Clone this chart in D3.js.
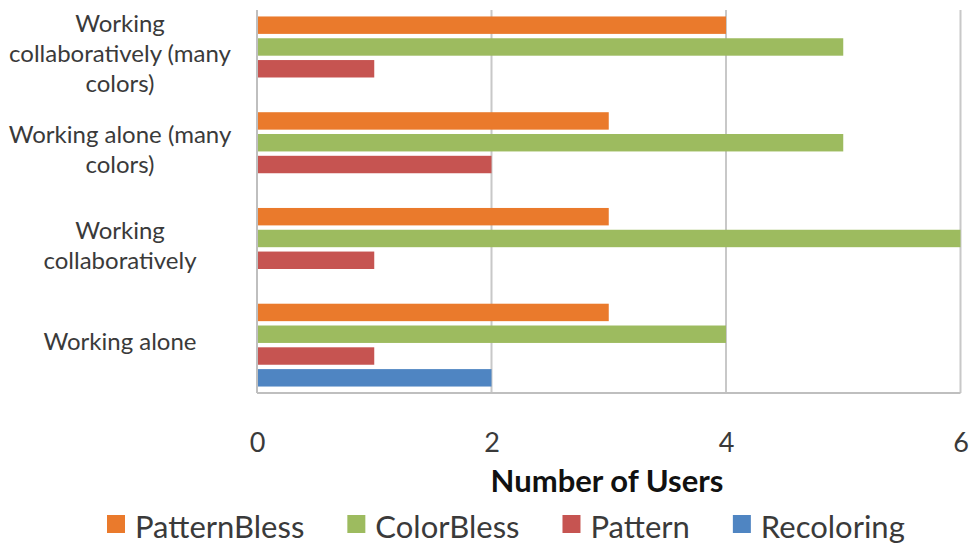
<!DOCTYPE html>
<html>
<head>
<meta charset="utf-8">
<script src="https://cdn.jsdelivr.net/npm/d3@7"></script>
<style>
  body { margin: 0; background: #fff; }
  text { font-family: Lato, "Open Sans", sans-serif; fill: #3a3a3a; }
</style>
</head>
<body>
<svg id="chart" width="977" height="545"></svg>
<script>
// data
const categories = [
  ['Working', 'collaboratively (many', 'colors)'],
  ['Working alone (many', 'colors)'],
  ['Working', 'collaboratively'],
  ['Working alone']
]
const seriesNames = ['PatternBless', 'ColorBless', 'Pattern', 'Recoloring']
const patternBless = [4, 3, 3, 3]
const colorBless = [5, 5, 6, 4]
const pattern = [1, 2, 1, 1]
const recoloring = [0, 0, 0, 2]
const xTicks = [0, 2, 4, 6]

const COLORS = ['#EA7A2C', '#9DBB5F', '#C65451', '#4F85C2']

const PLOT = { left: 257, right: 960.5, top: 10, bottom: 393 }

const values = [patternBless, colorBless, pattern, recoloring]
const catKeys = categories.map((_, i) => i)

const svg = d3.select('#chart')

const x = d3.scaleLinear().domain([0, 6]).range([PLOT.left, PLOT.right])
const y = d3.scaleBand().domain(catKeys).range([PLOT.top, PLOT.bottom]).paddingInner(0.135).paddingOuter(0.0675)
const ySub = d3.scaleBand().domain(seriesNames).range([0, y.bandwidth()]).paddingInner(0.2)

// grid
svg.append('g')
  .selectAll('line')
  .data(xTicks.slice(1))
  .join('line')
    .attr('x1', d => x(d)).attr('x2', d => x(d))
    .attr('y1', PLOT.top).attr('y2', PLOT.bottom)
    .attr('stroke', '#c8c8c8')
    .attr('stroke-width', 2)

// bars
const groups = svg.append('g')
  .selectAll('g')
  .data(catKeys)
  .join('g')
    .attr('transform', d => `translate(0, ${y(d)})`)

groups.selectAll('rect')
  .data(ci => seriesNames.map((s, si) => ({ s, si, v: values[si][ci] })))
  .join('rect')
    .attr('x', x(0))
    .attr('y', d => ySub(d.s))
    .attr('width', d => x(d.v) - x(0))
    .attr('height', ySub.bandwidth())
    .attr('fill', d => COLORS[d.si])

// axis lines
svg.append('line')
  .attr('x1', PLOT.left).attr('x2', PLOT.left)
  .attr('y1', PLOT.top).attr('y2', PLOT.bottom)
  .attr('stroke', '#bfbfbf').attr('stroke-width', 2)
svg.append('line')
  .attr('x1', PLOT.left).attr('x2', PLOT.right)
  .attr('y1', PLOT.bottom).attr('y2', PLOT.bottom)
  .attr('stroke', '#bfbfbf').attr('stroke-width', 2)

// x tick labels
const xAxis = svg.append('g')
  .attr('transform', `translate(0, ${PLOT.bottom})`)
  .call(d3.axisBottom(x).tickValues(xTicks).tickFormat(d3.format('d')).tickSize(0).tickPadding(40))
xAxis.select('.domain').remove()
xAxis.selectAll('text')
  .style('font-family', 'Lato, sans-serif')
  .style('font-size', '27px')
  .attr('fill', '#3a3a3a')

// category labels
const LINE_H = 30
svg.append('g')
  .selectAll('text')
  .data(catKeys)
  .join('text')
    .attr('text-anchor', 'middle')
    .style('font-size', '24px')
    .each(function (d) {
      const lines = categories[d]
      const cy = y(d) + y.bandwidth() / 2 - 4
      const t = d3.select(this)
      lines.forEach((ln, i) => {
        t.append('tspan')
          .attr('x', 120)
          .attr('y', cy + (i - (lines.length - 1) / 2) * LINE_H)
          .attr('dy', '0.35em')
          .text(ln)
      })
    })

// axis title
svg.append('text')
  .attr('x', 607)
  .attr('y', 492)
  .attr('text-anchor', 'middle')
  .style('font-size', '31px')
  .style('font-weight', 'bold')
  .style('fill', '#111')
  .text('Number of Users')

// legend
const legend = svg.append('g')
let lx = 107
seriesNames.forEach((name, i) => {
  const g = legend.append('g').attr('transform', `translate(${lx}, 0)`)
  g.append('rect')
    .attr('x', 0).attr('y', 515)
    .attr('width', 18).attr('height', 18)
    .attr('fill', COLORS[i])
  const t = g.append('text')
    .attr('x', 28).attr('y', 538)
    .style('font-size', '31px')
    .text(name)
  lx += 28 + t.node().getComputedTextLength() + 43
})
</script>
</body>
</html>
